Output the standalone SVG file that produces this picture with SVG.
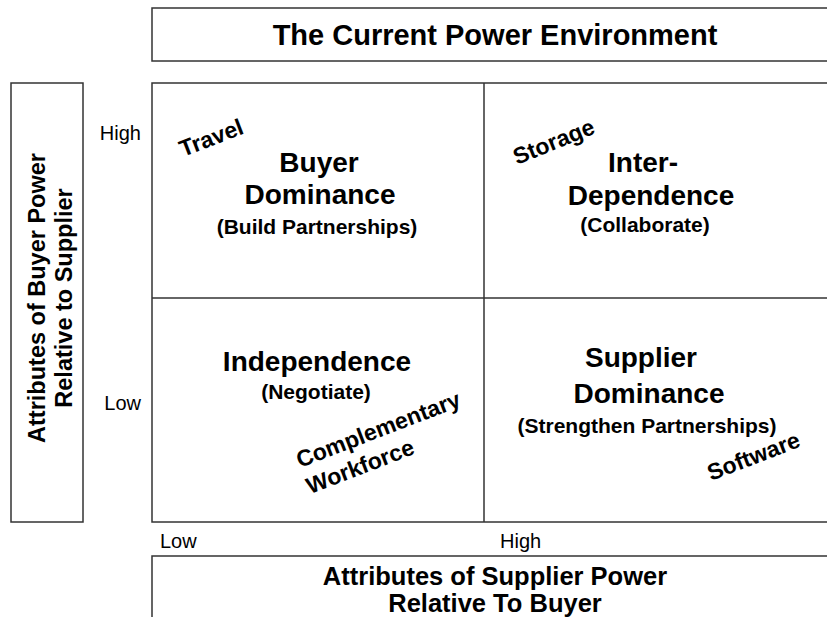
<svg xmlns="http://www.w3.org/2000/svg" width="827" height="617" viewBox="0 0 827 617">
<style>
.box{fill:#fff;stroke:#333;stroke-width:1.5}
.ln{stroke:#333;stroke-width:1.5;fill:none}
text{font-family:"Liberation Sans",Arial,sans-serif;fill:#000}
.big{font-size:28px;font-weight:bold;text-anchor:middle}
.sub{font-size:21px;font-weight:bold;text-anchor:middle}
.ax{font-size:24px;font-weight:bold;text-anchor:middle}
.tick{font-size:20px}
.item{font-size:23px;font-weight:bold}
</style>
<rect width="827" height="617" fill="#fff"/>
<g id="title">
<rect class="box" x="152" y="8" width="700" height="53"/>
<text class="big" x="495" y="45" style="font-size:29px">The Current Power Environment</text>
</g>
<g id="y-axis-label">
<rect class="box" x="11" y="83" width="72" height="439"/>
<g transform="translate(47,298) rotate(-90)">
<text class="ax" x="0" y="-2" style="font-size:23.5px">Attributes of Buyer Power</text>
<text class="ax" x="0" y="25" style="font-size:23.5px">Relative to Supplier</text>
</g>
</g>
<g id="x-axis-label">
<rect class="box" x="152" y="556" width="700" height="80"/>
<text class="ax" x="495" y="585" style="font-size:25.5px">Attributes of Supplier Power</text>
<text class="ax" x="495" y="612" style="font-size:25.5px">Relative To Buyer</text>
</g>
<g id="matrix">
<rect class="box" x="152" y="83" width="700" height="439"/>
</g>
<g id="connectors">
<line class="ln" x1="484" y1="83" x2="484" y2="522"/>
<line class="ln" x1="152" y1="298" x2="852" y2="298"/>
</g>
<g id="ticks">
<text class="tick" x="141" y="140" text-anchor="end">High</text>
<text class="tick" x="141" y="410" text-anchor="end">Low</text>
<text class="tick" x="160" y="548">Low</text>
<text class="tick" x="500" y="548">High</text>
</g>
<g id="buyer-dominance">
<text class="big" x="319" y="172">Buyer</text>
<text class="big" x="320" y="204">Dominance</text>
<text class="sub" x="317" y="234">(Build Partnerships)</text>
</g>
<g id="inter-dependence">
<text class="big" x="643" y="172">Inter-</text>
<text class="big" x="651" y="205">Dependence</text>
<text class="sub" x="645" y="232">(Collaborate)</text>
</g>
<g id="independence">
<text class="big" x="317" y="371">Independence</text>
<text class="sub" x="316" y="399">(Negotiate)</text>
</g>
<g id="supplier-dominance">
<text class="big" x="641" y="367">Supplier</text>
<text class="big" x="649" y="403">Dominance</text>
<text class="sub" x="647" y="433">(Strengthen Partnerships)</text>
</g>
<g id="travel">
<text class="item" transform="translate(183,157) rotate(-21)">Travel</text>
</g>
<g id="storage">
<text class="item" transform="translate(517,165) rotate(-22)">Storage</text>
</g>
<g id="complementary-workforce">
<g transform="translate(300,468) rotate(-21)">
<text class="item" x="0" y="0">Complementary</text>
<text class="item" x="0" y="28">Workforce</text>
</g>
</g>
<g id="software">
<text class="item" transform="translate(711,481) rotate(-21)">Software</text>
</g>
</svg>
